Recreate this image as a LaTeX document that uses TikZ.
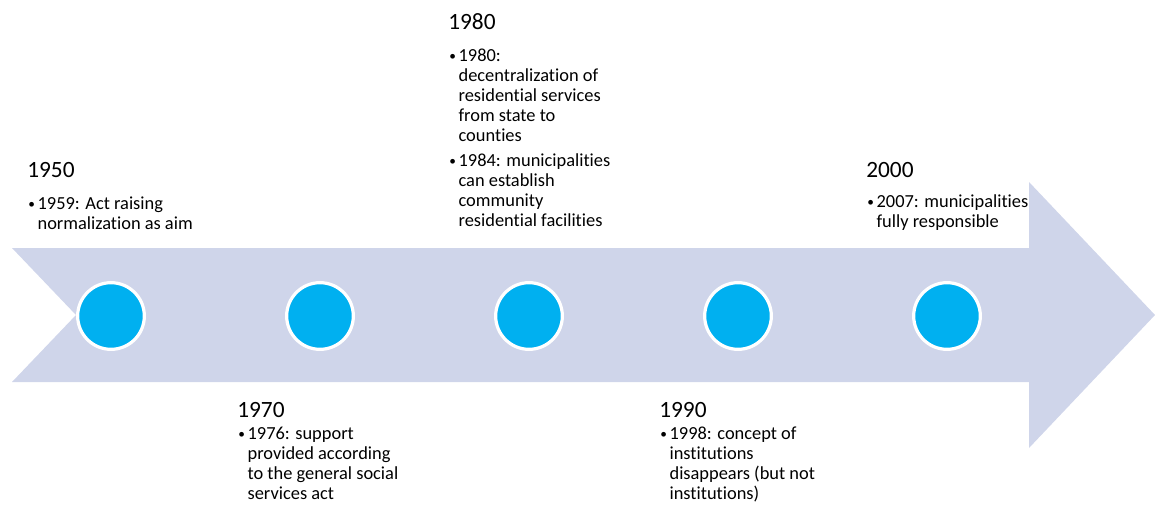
\documentclass[tikz,border=0pt]{standalone}
\usepackage{fontspec}
\setmainfont{Carlito}[Ligatures={NoCommon}]
\definecolor{arrowfill}{HTML}{CFD5EA}
\definecolor{dotfill}{HTML}{00B0F0}
\newcommand{\bl}{\raisebox{0.6pt}{\fontsize{10}{10}\selectfont\textbullet}}
\tikzset{
  yearlbl/.style={anchor=base west, inner sep=0pt, font=\fontsize{17.5}{21}\selectfont},
  itemlbl/.style={anchor=base west, inner sep=0pt, font=\fontsize{13.8}{15}\selectfont},
  dot/.style={circle, fill=dotfill, draw=white, line width=2.4pt, minimum size=50pt, inner sep=0pt},
}
\newcommand{\itemrows}[1]{\begin{tabular}[t]{@{}p{7pt}@{}l@{}}#1\end{tabular}}
\begin{document}
\begin{tikzpicture}[x=0.75pt,y=-0.75pt]
\useasboundingbox (0,0) rectangle (1155,514);
% big arrow
\fill[arrowfill] (12,248) -- (1029,248) -- (1029,182) -- (1155,315) -- (1029,448)
  -- (1029,382) -- (12,382) -- (76,315) -- cycle;
% dots
\foreach \i/\x in {1/111,2/320,3/529,4/738,5/947}
  \node[dot] (d\i) at (\x,316) {};
% 1950
\node[yearlbl] (y1950) at (27,177) {1950};
\node[itemlbl] (t1950) at (28,209) {\itemrows{\bl & 1959: Act raising\\ & normalization as aim}};
% 1970
\node[yearlbl] (y1970) at (237,417) {1970};
\node[itemlbl] (t1970) at (238,439) {\itemrows{\bl & 1976: support\\ & provided according\\ & to the general social\\ & services act}};
% 1980
\node[yearlbl] (y1980) at (448,29) {1980};
\node[itemlbl] (t1980) at (449,61) {\itemrows{\bl & 1980:\\ & decentralization of\\ & residential services\\ & from state to\\ & counties\\[4pt]
\bl & 1984: municipalities\\ & can establish\\ & community\\ & residential facilities}};
% 1990
\node[yearlbl] (y1990) at (659,417) {1990};
\node[itemlbl] (t1990) at (660,439) {\itemrows{\bl & 1998: concept of\\ & institutions\\ & disappears (but not\\ & institutions)}};
% 2000
\node[yearlbl] (y2000) at (866,177) {2000};
\node[itemlbl] (t2000) at (867,207) {\itemrows{\bl & 2007: municipalities\\ & fully responsible}};
\end{tikzpicture}
\end{document}
